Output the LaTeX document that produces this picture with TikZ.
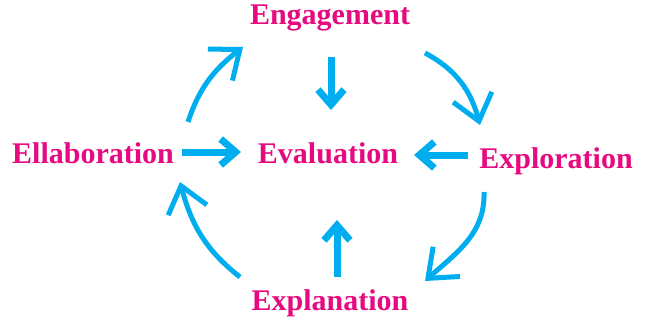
\documentclass[tikz,border=0pt]{standalone}
\usepackage{fontspec}
\setmainfont{Liberation Serif}
\usetikzlibrary{arrows.meta}
\definecolor{stagepink}{HTML}{E6097F}
\definecolor{flowcyan}{HTML}{00AEEF}
\tikzset{
  stage/.style={text=stagepink, font=\bfseries\fontsize{30}{36}\selectfont, inner sep=0pt, anchor=base},
  cycle/.style={draw=flowcyan, line width=5pt, -{Straight Barb[length=25pt,width=40pt]}},
  feed/.style={draw=flowcyan, line width=7pt, -{Straight Barb[length=15pt,width=26pt]}},
}
\begin{document}
\begin{tikzpicture}[x=1pt,y=1pt]
\useasboundingbox (0,0) rectangle (654,-329);
% phase labels
\node[stage] (eng) at (330,-25)  {Engagement};
\node[stage] (eva) at (328,-163) {Evaluation};
\node[stage] (ell) at (93,-163)  {Ellaboration};
\node[stage] (exo) at (556,-168) {Exploration};
\node[stage] (exa) at (330,-310) {Explanation};
% ends of the cycle arrows
\coordinate (c1s) at (188,-122); \coordinate (c1e) at (243,-47);
\coordinate (c2s) at (425,-53);  \coordinate (c2e) at (480,-125);
\coordinate (c3s) at (484,-192); \coordinate (c3e) at (425,-281);
\coordinate (c4s) at (240,-277); \coordinate (c4e) at (180,-182);
% outer cycle
\draw[cycle] (c1s) to[out=72,in=218] (c1e);
\draw[cycle] (c2s) to[out=-28,in=105] (c2e);
\draw[cycle] (c3s) to[out=-88,in=42] (c3e);
\draw[cycle] (c4s) to[out=142,in=-75] (c4e);
% arrows into evaluation
\coordinate (f1s) at (331,-57);  \coordinate (f1e) at (331,-110);
\coordinate (f2s) at (337,-277); \coordinate (f2e) at (337,-220);
\coordinate (f3s) at (182,-152); \coordinate (f3e) at (241,-152);
\coordinate (f4s) at (468,-155); \coordinate (f4e) at (414,-155);
\draw[feed] (f1s) -- (f1e);
\draw[feed] (f2s) -- (f2e);
\draw[feed] (f3s) -- (f3e);
\draw[feed] (f4s) -- (f4e);
\end{tikzpicture}
\end{document}
